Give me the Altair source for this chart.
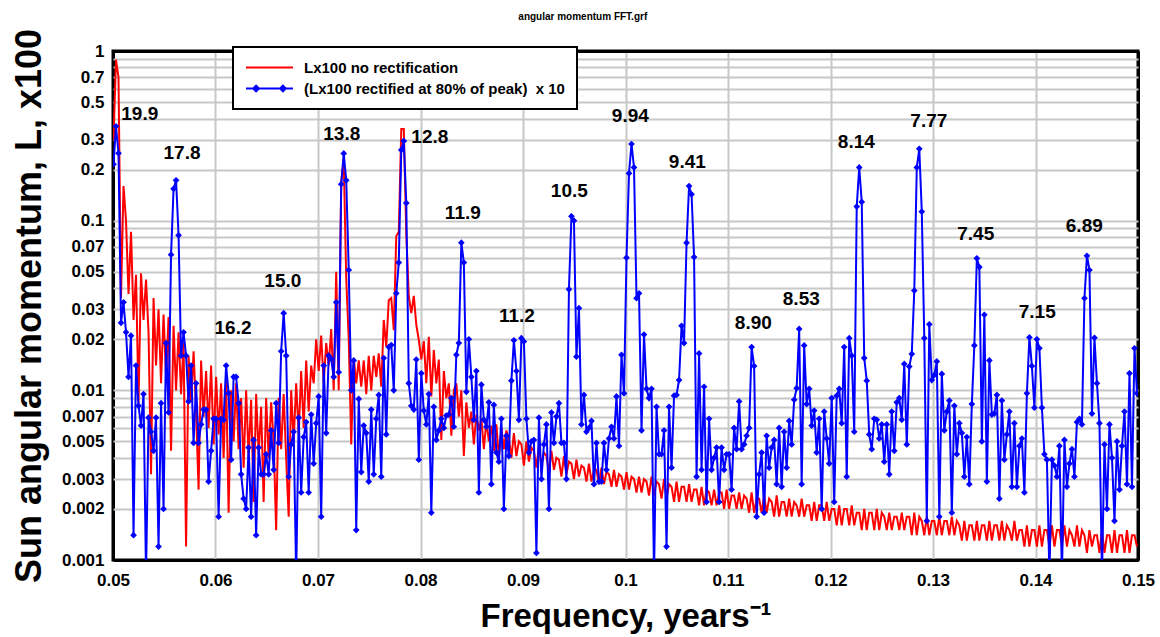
import json

import altair as alt
import pandas as pd

# FFT bins are 1/4096 cycles per year apart; the plotted band starts at bin 205
FREQ_STEP = 1 / 4096
FIRST_BIN = 205

# Lx100, no rectification: one value per bin (bins 205 .. 614)
red_values = [
    0.30, 0.89, 0.70, 0.035, 0.16, 0.10, 0.037, 0.086, 0.026, 0.048,
    0.0084, 0.049, 0.026, 0.045, 0.022, 0.0032, 0.035, 0.014, 0.030, 0.011,
    0.028, 0.012, 0.027, 0.0044, 0.024, 0.010, 0.022, 0.0095, 0.019, 0.0012,
    0.016, 0.0085, 0.017, 0.0075, 0.0026, 0.015, 0.0070, 0.013, 0.0060, 0.014,
    0.0048, 0.012, 0.0055, 0.011, 0.0040, 0.012, 0.0019, 0.010, 0.0050, 0.011,
    0.0045, 0.0090, 0.0035, 0.010, 0.0040, 0.0088, 0.0022, 0.0095, 0.0042, 0.0080,
    0.0022, 0.0090, 0.0040, 0.0085, 0.0050, 0.0015, 0.0090, 0.0045, 0.0095, 0.0040,
    0.0018, 0.0100, 0.0050, 0.0110, 0.0055, 0.0130, 0.0060, 0.0150, 0.0075, 0.0140,
    0.0110, 0.0200, 0.0130, 0.0210, 0.0110, 0.0190, 0.0140, 0.0230, 0.0100, 0.050,
    0.010, 0.17, 0.23, 0.046, 0.020, 0.0048, 0.0155, 0.011, 0.015, 0.0105,
    0.0150, 0.0095, 0.0160, 0.0100, 0.0160, 0.0120, 0.0165, 0.0105, 0.026, 0.018,
    0.034, 0.035, 0.0226, 0.081, 0.086, 0.347, 0.347, 0.084, 0.036, 0.0285,
    0.036, 0.0244, 0.0198, 0.0152, 0.0195, 0.0110, 0.0207, 0.0092, 0.0173, 0.0110,
    0.0152, 0.0051, 0.0130, 0.0090, 0.0110, 0.0054, 0.0100, 0.0110, 0.0070, 0.0100,
    0.0041, 0.0085, 0.0060, 0.0075, 0.0048, 0.0072, 0.0058, 0.0068, 0.0045, 0.0066,
    0.0050, 0.0062, 0.0044, 0.0063, 0.0040, 0.0060, 0.0045, 0.0058, 0.0052, 0.0040,
    0.0056, 0.0041, 0.0050, 0.0048, 0.0036, 0.0050, 0.0038, 0.0046, 0.0044, 0.0035,
    0.0047, 0.0036, 0.0043, 0.0041, 0.0033, 0.0044, 0.0034, 0.0040, 0.0039, 0.0031,
    0.0041, 0.0032, 0.0038, 0.0037, 0.0030, 0.0039, 0.0031, 0.0036, 0.0035, 0.0029,
    0.0037, 0.0029, 0.0034, 0.0034, 0.0028, 0.0035, 0.0028, 0.0033, 0.0032, 0.0027,
    0.0034, 0.0027, 0.0032, 0.0031, 0.0026, 0.0033, 0.0026, 0.0031, 0.0030, 0.0025,
    0.0031, 0.0025, 0.0030, 0.0029, 0.0024, 0.0031, 0.0024, 0.0029, 0.0028, 0.0023,
    0.0030, 0.0023, 0.0028, 0.0027, 0.0022, 0.0029, 0.0022, 0.0027, 0.0027, 0.0022,
    0.0028, 0.0022, 0.0026, 0.0026, 0.0021, 0.0027, 0.0021, 0.0026, 0.0025, 0.0021,
    0.0026, 0.0021, 0.0025, 0.0025, 0.0020, 0.0026, 0.0020, 0.0024, 0.0024, 0.0020,
    0.0025, 0.0020, 0.0024, 0.0023, 0.0019, 0.0025, 0.0019, 0.0023, 0.0023, 0.0019,
    0.0024, 0.0019, 0.0023, 0.0022, 0.0018, 0.0024, 0.0018, 0.0022, 0.0022, 0.0018,
    0.0023, 0.0018, 0.0022, 0.0021, 0.0018, 0.0023, 0.0018, 0.0021, 0.0021, 0.0017,
    0.0022, 0.0017, 0.0021, 0.0021, 0.0017, 0.0022, 0.0017, 0.0020, 0.0020, 0.0016,
    0.0021, 0.0016, 0.0020, 0.0020, 0.0016, 0.0021, 0.0016, 0.0019, 0.0019, 0.0015,
    0.0020, 0.0015, 0.0019, 0.0019, 0.0015, 0.0020, 0.0015, 0.0019, 0.0018, 0.0015,
    0.0019, 0.0015, 0.0018, 0.0018, 0.0015, 0.0019, 0.0015, 0.0018, 0.0018, 0.0014,
    0.0019, 0.0014, 0.0018, 0.0017, 0.0014, 0.0018, 0.0014, 0.0017, 0.0017, 0.0014,
    0.0018, 0.0014, 0.0017, 0.0017, 0.0014, 0.0018, 0.0014, 0.0017, 0.0016, 0.0013,
    0.0017, 0.0013, 0.0016, 0.0016, 0.0013, 0.0017, 0.0013, 0.0016, 0.0016, 0.0013,
    0.0017, 0.0013, 0.0016, 0.0016, 0.0013, 0.0017, 0.0013, 0.0016, 0.0015, 0.0013,
    0.0017, 0.0013, 0.0015, 0.0015, 0.0012, 0.0016, 0.0012, 0.0015, 0.0015, 0.0012,
    0.0016, 0.0012, 0.0015, 0.0015, 0.0012, 0.0016, 0.0012, 0.0015, 0.0015, 0.0012,
    0.0016, 0.0012, 0.0015, 0.0014, 0.0012, 0.0016, 0.0012, 0.0015, 0.0014, 0.0011,
    0.0015, 0.0012, 0.0014, 0.0014, 0.0011, 0.0015, 0.0011, 0.0014, 0.0014, 0.0011,
    0.0015, 0.0011, 0.0014, 0.0014, 0.0011, 0.0015, 0.0011, 0.0014, 0.0014, 0.0012,
]

# Lx100 rectified at 80% of peak, x10: one value per bin (bins 205 .. 614)
blue_values = [
    0.215, 0.36, 0.25, 0.025, 0.033, 0.022, 0.012, 0.021, 0.0014, 0.014,
    0.0081, 0.0062, 0.0095, 0.0008, 0.0069, 0.0057, 0.0044, 0.0069, 0.0012, 0.0084,
    0.0020, 0.019, 0.0074, 0.063, 0.154, 0.173, 0.082, 0.016, 0.022, 0.016,
    0.0086, 0.014, 0.0049, 0.011, 0.0049, 0.0063, 0.0077, 0.0077, 0.0029, 0.0044,
    0.0068, 0.0068, 0.0018, 0.0068, 0.0067, 0.014, 0.0096, 0.0039, 0.012, 0.012,
    0.0084, 0.0032, 0.0023, 0.0020, 0.0046, 0.0018, 0.0051, 0.0014, 0.0046, 0.0032,
    0.0032, 0.0042, 0.0032, 0.0058, 0.0034, 0.0084, 0.0049, 0.017, 0.0285, 0.016,
    0.0031, 0.0048, 0.0057, 0.0008, 0.0069, 0.0025, 0.0053, 0.0065, 0.0025, 0.0072,
    0.0037, 0.0064, 0.0092, 0.0018, 0.014, 0.0056, 0.016, 0.0153, 0.012, 0.033,
    0.0128, 0.164, 0.249, 0.173, 0.0512, 0.0100, 0.015, 0.0015, 0.0089, 0.0033,
    0.0062, 0.0056, 0.0029, 0.0077, 0.0032, 0.0068, 0.0094, 0.0031, 0.0155, 0.0055,
    0.018, 0.0185, 0.0100, 0.0373, 0.0566, 0.261, 0.295, 0.127, 0.0110, 0.0081,
    0.0077, 0.0152, 0.0039, 0.0126, 0.0076, 0.0063, 0.0095, 0.0019, 0.0080, 0.0051,
    0.0058, 0.0068, 0.0060, 0.0071, 0.0072, 0.0090, 0.0061, 0.0162, 0.0190, 0.0742,
    0.0566, 0.0098, 0.020, 0.012, 0.0067, 0.013, 0.0025, 0.0108, 0.0067, 0.0061,
    0.0085, 0.0028, 0.0082, 0.0043, 0.0038, 0.0068, 0.0020, 0.0054, 0.0041, 0.0114,
    0.0197, 0.013, 0.0067, 0.0203, 0.0194, 0.0068, 0.0043, 0.0050, 0.0051, 0.0011,
    0.0069, 0.0030, 0.0048, 0.0063, 0.0020, 0.0074, 0.0049, 0.0070, 0.0084, 0.0049,
    0.0049, 0.0030, 0.0394, 0.106, 0.100, 0.0158, 0.0305, 0.0063, 0.0094, 0.0057,
    0.0060, 0.0066, 0.0028, 0.0049, 0.0029, 0.0029, 0.0049, 0.0034, 0.0052, 0.0061,
    0.0052, 0.0092, 0.0047, 0.0162, 0.0096, 0.0605, 0.190, 0.283, 0.206, 0.0349,
    0.0373, 0.0058, 0.0213, 0.0102, 0.0090, 0.0102, 0.0008, 0.0080, 0.0042, 0.0042,
    0.0058, 0.0012, 0.0080, 0.0035, 0.0093, 0.0094, 0.0115, 0.024, 0.019, 0.074,
    0.160, 0.143, 0.061, 0.0031, 0.0165, 0.0034, 0.0105, 0.0022, 0.0068, 0.0034,
    0.0040, 0.0046, 0.0022, 0.0046, 0.0034, 0.0042, 0.0042, 0.0026, 0.0060, 0.0045,
    0.0086, 0.0045, 0.0048, 0.0054, 0.0060, 0.0180, 0.0139, 0.0018, 0.0032, 0.0043,
    0.0019, 0.0054, 0.0035, 0.0046, 0.0051, 0.0028, 0.0060, 0.0027, 0.0057, 0.0035,
    0.0066, 0.0048, 0.0088, 0.0103, 0.023, 0.0028, 0.0184, 0.0083, 0.0102, 0.0062,
    0.0076, 0.0043, 0.0068, 0.0020, 0.0075, 0.0052, 0.0037, 0.0090, 0.0022, 0.0093,
    0.0102, 0.0064, 0.0180, 0.0031, 0.0203, 0.0160, 0.0057, 0.121, 0.206, 0.129,
    0.0155, 0.0114, 0.0055, 0.0045, 0.0068, 0.0067, 0.0052, 0.0063, 0.0038, 0.0063,
    0.0032, 0.0075, 0.0044, 0.0085, 0.0090, 0.0067, 0.0143, 0.0048, 0.0138, 0.0164,
    0.0387, 0.206, 0.265, 0.113, 0.0203, 0.0017, 0.0245, 0.0115, 0.0123, 0.0148,
    0.0018, 0.0125, 0.0058, 0.0075, 0.0087, 0.0019, 0.0081, 0.0042, 0.0064, 0.0056,
    0.0031, 0.0053, 0.0028, 0.0083, 0.0184, 0.060, 0.0533, 0.0050, 0.0279, 0.0029,
    0.0150, 0.0072, 0.0073, 0.0094, 0.0023, 0.0087, 0.0039, 0.0055, 0.0075, 0.0027,
    0.0064, 0.0027, 0.0047, 0.0052, 0.0025, 0.0096, 0.0205, 0.0139, 0.0079, 0.0200,
    0.0177, 0.0079, 0.0042, 0.0039, 0.0008, 0.0039, 0.0036, 0.0031, 0.0047, 0.0008,
    0.0051, 0.0027, 0.0037, 0.0045, 0.0031, 0.0065, 0.0068, 0.0063, 0.0349, 0.0621,
    0.0512, 0.0073, 0.0204, 0.0110, 0.0064, 0.0008, 0.0048, 0.0020, 0.0063, 0.0040,
    0.0017, 0.0050, 0.0026, 0.0047, 0.0075, 0.0028, 0.0126, 0.0027, 0.0177, 0.0096,
]

series_names = [
    "Lx100 no rectification",
    "(Lx100 rectified at 80% of peak)\u00a0 x 10",
]
series_colors = ["#ff0000", "#0000ff"]

# Period (years) written above each peak, placed in frequency / amplitude units
peak_text = ["19.9", "17.8", "16.2", "15.0", "13.8", "12.8", "11.9", "11.2", "10.5",
             "9.94", "9.41", "8.90", "8.53", "8.14", "7.77", "7.45", "7.15", "6.89"]
peak_text_freq = [0.05261, 0.05673, 0.06171, 0.06657, 0.07232, 0.08091, 0.08413,
                  0.08940, 0.09452, 0.10047, 0.10603, 0.11247, 0.11715, 0.12252,
                  0.12959, 0.13417, 0.14017, 0.14476]
peak_text_value = [0.425, 0.2506, 0.0233, 0.0441, 0.324, 0.311, 0.111, 0.0274, 0.150,
                   0.414, 0.222, 0.0250, 0.0346, 0.291, 0.387, 0.0835, 0.0290, 0.0930]

x_ticks = [0.05, 0.06, 0.07, 0.08, 0.09, 0.1, 0.11, 0.12, 0.13, 0.14, 0.15]
y_grid = [0.001, 0.002, 0.003, 0.004, 0.005, 0.006, 0.007, 0.008, 0.009,
          0.01, 0.02, 0.03, 0.04, 0.05, 0.06, 0.07, 0.08, 0.09,
          0.1, 0.2, 0.3, 0.4, 0.5, 0.6, 0.7, 0.8, 0.9, 1]
y_labelled = [0.001, 0.002, 0.003, 0.005, 0.007, 0.01, 0.02, 0.03, 0.05, 0.07,
              0.1, 0.2, 0.3, 0.5, 0.7, 1]

freqs = [(FIRST_BIN + i) * FREQ_STEP for i in range(len(blue_values))]
spectra = pd.DataFrame({
    "freq": freqs + freqs,
    "value": red_values + blue_values,
    "series": [series_names[0]] * len(red_values) + [series_names[1]] * len(blue_values),
})
peaks = pd.DataFrame({"freq": peak_text_freq, "value": peak_text_value, "text": peak_text})

FONT = "Liberation Sans"
GRID_GREY = "#c8c8c8"

x_enc = alt.X(
    "freq:Q",
    scale=alt.Scale(domain=[0.05, 0.15], nice=False, zero=False),
    axis=alt.Axis(
        values=x_ticks, format="~g", title="Frequency, years\u207b\u00b9",
        labelFlush=False, labelOverlap=False, labelPadding=12,
        titleFontSize=33, titleY=66, titleBaseline="alphabetic",
        gridColor={"condition": {"test": "datum.value == 0.05 || datum.value == 0.15",
                                 "value": "black"}, "value": GRID_GREY},
        gridWidth={"condition": {"test": "datum.value == 0.05 || datum.value == 0.15",
                                 "value": 3}, "value": 2},
    ),
)
y_enc = alt.Y(
    "value:Q",
    scale=alt.Scale(type="log", domain=[0.001, 1], nice=False),
    axis=alt.Axis(
        values=y_grid, format="~g",
        labelExpr=f"indexof({json.dumps(y_labelled)}, datum.value) >= 0 ? datum.label : ''",
        title="Sun angular momentum, L, x100",
        labelOverlap=False, labelFlush=False, labelPadding=9,
        titleFontSize=36, titleX=-73, titleBaseline="alphabetic",
        gridColor={"condition": {"test": "datum.value == 1 || datum.value == 0.001",
                                 "value": "black"}, "value": GRID_GREY},
        gridWidth={"condition": {"test": "datum.value == 1 || datum.value == 0.001",
                                 "value": 3}, "value": 2},
    ),
)

# Legend symbols: a plain stroke, and a stroke carrying two diamonds
line_symbol = "M-1,0H1"
line_diamond_symbol = (
    "M-1,0H1"
    "M-0.69,0L-0.57,-0.12L-0.45,0L-0.57,0.12ZM-0.57,-0.12V0.12"
    "M0.45,0L0.57,-0.12L0.69,0L0.57,0.12ZM0.57,-0.12V0.12"
)

legend = alt.Legend(
    title=None, orient="none", legendX=120, legendY=-4,
    fillColor="white", strokeColor="black", padding=12,
    labelFont=FONT, labelFontSize=15, labelFontWeight="bold", labelColor="black",
    labelLimit=400, labelOffset=10, symbolSize=2209, symbolStrokeWidth=2,
    symbolOpacity=1, clipHeight=17, rowPadding=4,
)
color_enc = alt.Color("series:N", scale=alt.Scale(domain=series_names, range=series_colors),
                      legend=legend)
shape_enc = alt.Shape("series:N",
                      scale=alt.Scale(domain=series_names,
                                      range=[line_symbol, line_diamond_symbol]),
                      legend=legend)

base = alt.Chart(spectra)

red_line = base.transform_filter(alt.datum.series == series_names[0]).mark_line(
    strokeWidth=2, clip=True
).encode(x=x_enc, y=y_enc, color=color_enc)

blue_line = base.transform_filter(alt.datum.series == series_names[1]).mark_line(
    strokeWidth=2, clip=True
).encode(x=x_enc, y=y_enc, color=color_enc)

blue_points = base.transform_filter(alt.datum.series == series_names[1]).mark_point(
    shape="diamond", filled=True, size=45, opacity=1, strokeWidth=0, clip=True
).encode(x=x_enc, y=y_enc, color=alt.value("#0000ff"))

# Empty layer that only contributes the shape scale to the shared legend
legend_keys = base.transform_filter("false").mark_point(filled=False).encode(
    x=x_enc, y=y_enc, color=color_enc, shape=shape_enc
)

peak_labels = alt.Chart(peaks).mark_text(
    font=FONT, fontSize=19, fontWeight="bold", color="black",
    align="center", baseline="middle",
).encode(x="freq:Q", y="value:Q", text="text:N")

chart = alt.layer(
    red_line, blue_line, blue_points, legend_keys, peak_labels
).properties(
    width=1025,
    height=509,
    autosize=alt.AutoSizeParams(type="none"),
    padding={"left": 113, "top": 51, "right": 22, "bottom": 77},
    title=alt.TitleParams(
        "angular momentum FFT.grf", font=FONT, fontSize=10, fontWeight="bold",
        color="black", anchor="middle", frame="bounds", offset=6,
    ),
).configure_view(
    stroke="black", strokeWidth=3
).configure_axis(
    labelFont=FONT, labelFontSize=17, labelFontWeight="bold", labelColor="black",
    titleFont=FONT, titleFontWeight="bold", titleColor="black",
    ticks=False, tickSize=0, domain=False, grid=True,
).configure_legend(
    strokeWidth=2
)

chart.save("out.html", embed_options={"renderer": "svg", "actions": False})
